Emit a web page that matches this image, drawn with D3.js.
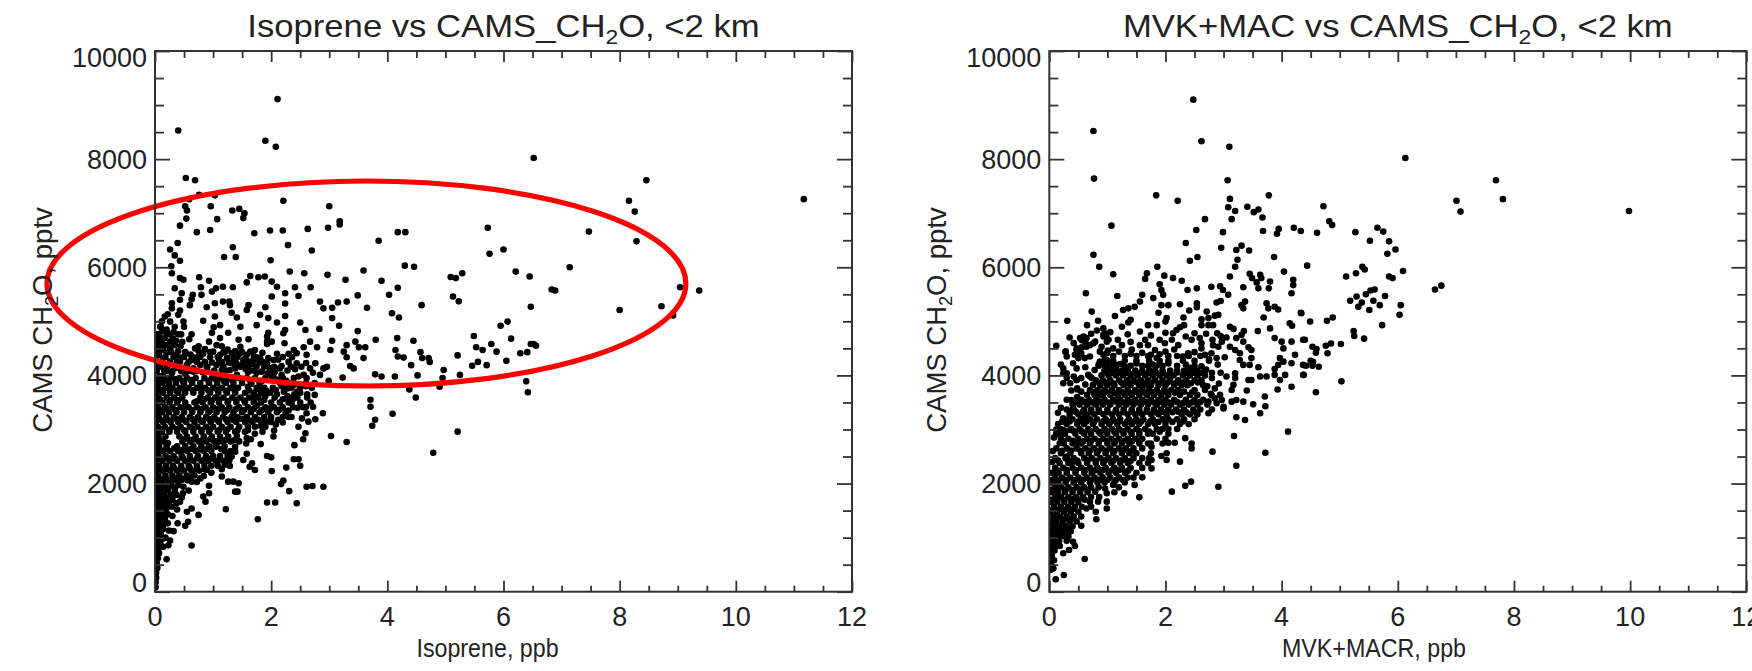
<!DOCTYPE html>
<html><head><meta charset="utf-8">
<script src="https://cdn.jsdelivr.net/npm/d3@7"></script>
<style>html,body{margin:0;padding:0;background:#fff;overflow:hidden}svg{display:block}</style>
</head><body><svg id="chart" width="1752" height="671"></svg>
<script>
const xTickLabels=[0,2,4,6,8,10,12];
const yTickLabels=[0,2000,4000,6000,8000,10000];
const isopreneSparse=[[.40,8530],[2.11,9110],[1.90,8340],[2.08,8230],[.53,7650],[.69,7610],[.76,7340],[.59,7260],[1.03,7330],[2.21,7230],[3.0,7130],[.52,7130],[.55,7050],[.96,7130],[1.07,6890],[1.33,7050],[1.45,7080],[1.54,7000],[1.52,6910],[3.18,6850],[3.18,6790],[.54,6900],[.43,6770],[.72,6650],[.95,6690],[1.71,6630],[1.98,6680],[2.2,6680],[2.63,6710],[2.98,6730],[.39,6450],[2.29,6410],[1.34,6370],[2.7,6310],[.26,6330],[.34,6220],[.43,6120],[1.19,6190],[1.39,6190],[1.99,6130],[.28,6020],
[.29,5890],[.43,5800],[.49,5770],[.76,5815],[.93,5750],[.34,5610],[.46,5520],[.65,5490],[.63,5410],[.43,5400],[.60,5300],[.79,5630],[.80,5490],[.98,5550],[1.05,5610],[1.17,5640],[1.34,5630],[1.58,5720],[1.64,5840],[1.78,5815],[1.89,5830],[2.01,5735],[2.10,5640],[2.32,5920],[2.57,5890],[2.97,5860],[3.28,5770],[3.59,5940],[2.41,5630],[2.24,5520],[2.68,5630],[2.01,5460],[2.47,5470],[3.49,5480],[2.24,5330],[2.84,5365],[2.90,5240],[3.15,5350],[3.30,5365],[3.05,5250],[3.65,5250],[.29,5335],[.29,5240],[.43,5200],[.49,4995],[.40,5120],[.89,5260],[1.03,5335],[1.17,5365],[1.28,5365],[1.29,5300],[1.61,5300],[1.58,5210],[1.90,5260],[1.32,5160],[1.03,5090],[1.41,5070],[.83,5010],[1.81,5120],[1.95,5060],[2.10,4980],[2.24,5100],[1.75,4930],[1.47,4900],[1.12,4930],[1.01,4890],[.98,4790],[1.26,4790],[.17,5090],[.26,4995],[.34,4900],[.09,4900],[.50,4900],[3.05,5060],[3.17,4920],[2.5,4980],[2.59,4840],[2.83,4860],[2.24,4840],[2.21,4780],[3.49,4820],[1.95,4790],[1.93,4720],[.63,4760],[.59,4670],[.17,4690],[.26,4625],[.34,4560],[.93,4625],[1.12,4690],[1.06,4560],[1.44,4660],[1.61,4670],[1.93,4625],[2.01,4625],[2.23,4595],[2.67,4625],[3.05,4640],[3.45,4625],[3.30,4560],[3.51,4520],[3.62,4520],[.69,4500],[.86,4490],[.40,4450],[.14,4470],[.26,4500],[1.47,4530],[1.32,4410],[1.72,4470],[1.93,4580],[2.56,4520],[2.79,4520],[2.39,4470],[3.02,4470],[3.25,4440],[3.30,4335],[3.59,4320],[2.61,4380],[2.36,4335],[2.44,4410],[.95,4335],[1.24,4320],[1.58,4380],[1.75,4335],[1.64,4255],[2.04,4285],[2.18,4175],[2.44,4225],[2.76,4225],[2.67,4130],[2.90,4130],[2.96,4160],[3.36,4175],[3.42,4130],[2.41,4115],[.43,4255],[.78,4195],[1.06,4195],[1.32,4225],[1.47,4160],[1.75,4160],[1.98,4130],[.14,4320],[.09,4160],[.26,4255],[1.84,4070],[2.56,4010],[2.61,3950],[3.23,3960],[2.39,3950],[2.99,3900],[2.18,4010],[2.01,3980],[1.41,4010],[1.06,3980],[.66,4070],[1.64,4440],[1.35,4320],[1.52,4285],[1.70,4285],[1.81,4320],[1.93,4225],[1.95,4320],[1.12,4380],[1.29,4100],[1.15,4100],[.89,4160],[.66,4130],[.49,4100],[.29,4040],[.14,3980],
[4.18,6650],[4.31,6650],[3.85,6490],[5.73,6730],[7.47,6660],[8.16,7230],[8.26,7030],[8.29,6480],[5.76,6250],[6.0,6330],[4.30,6030],[4.46,6010],[6.21,5920],[6.45,5830],[7.14,6000],[3.90,5750],[4.18,5620],[4.03,5490],[5.09,5820],[5.18,5800],[5.29,5890],[5.13,5460],[5.23,5370],[4.59,5300],[6.83,5590],[6.89,5570],[4.08,5150],[4.20,5070],[6.47,5270],[8.0,5210],[6.07,4995],[5.95,4920],[5.49,4730],[6.13,4680],[3.80,4660],[4.17,4690],[4.45,4640],[4.14,4470],[5.53,4520],[5.64,4470],[5.79,4580],[5.88,4440],[6.47,4580],[6.56,4550],[6.52,4580],[4.57,4430],[4.18,4350],[4.28,4330],[4.41,4190],[4.6,4320],[4.71,4320],[4.73,4250],[5.21,4370],[6.29,4410],[6.41,4430],[6.05,4270],[5.46,4180],[5.56,4250],[5.71,4190],[4.97,4100],[3.79,4020],[3.90,3980],[4.13,3980],[4.52,4000],[4.95,3950],[5.25,4010],[4.38,3740],[4.90,3790],[6.39,3890],[6.42,3690],[4.49,3590],[3.71,3550],[3.71,3420],[4.09,3290],[3.79,3180],[3.74,3070],[5.21,2960],[4.79,2570],[6.52,8020],[8.46,7610],[11.17,7260],[9.37,5570],[9.04,5630],[8.72,5280],[8.92,5110],
[3.30,2770],[3.03,2880],[2.89,3300],[2.76,3190],[2.64,3145],[2.53,3205],[2.61,3300],[2.47,3050],[2.59,2930],[2.55,2820],[2.40,2710],[2.04,2870],[1.82,2730],[1.57,2740],[1.58,2840],[1.41,2885],[1.58,2550],[1.52,2435],[1.67,2375],[1.63,2310],[1.72,2250],[1.93,2510],[2.0,2485],[2.01,2230],[2.26,2295],[2.39,2450],[2.47,2450],[2.5,2330],[2.21,2055],[2.17,1990],[2.31,1860],[2.61,1940],[2.71,1955],[2.90,1940],[1.93,1650],[2.07,1650],[2.44,1635],[1.77,1340],[1.22,1525],[1.38,1850],[1.42,1850],[1.44,2005],[1.35,2035],[1.26,2035],[1.15,2130],[1.15,2265],[1.29,2325],[1.32,2500],[1.38,2590],[.93,1960],[.93,1820],[.83,1760],[.87,1665],[.63,1540],[.55,1480],[.75,1420],[.57,1295],[.52,1220],[.39,1265],[.32,1120],[.22,1265],[.26,945],[.23,860],[.14,830],[.63,855],[.20,600],[.37,1635],[.43,1665],[.29,1570],[.49,1940],[.48,1820],[.63,2035],[.78,2095],[.89,2250]];
const isopreneExtra=[[.05,4720],[.12,4810],[.21,4770],[.08,4600],[.19,4560],[.31,4680],[.47,4620],[.53,4410],[.07,4380],[.2,4420],[.36,4370],[.44,4330],[.61,4385],[.74,4340],[.83,4400],[1.0,4440],[1.1,4300],[1.2,4430],[1.38,4450],[1.27,4240],[1.56,4320],[1.4,4230],[1.68,4210],[1.8,4240],[2.12,4290],[2.3,4250],[2.28,4090],[2.06,4060],[1.94,4040],[1.68,4090],[1.56,4120],[1.38,4130],[1.02,4090],[.82,4060],[.52,4030],[.37,4140],[.21,4080],[.08,3990],
[.09,3915],[.21,3900],[.35,3930],[.48,3890],[.62,3915],[.92,3900],[1.05,3925],[1.19,3890],[1.33,3910],[1.64,3905],[1.84,3895],[2.12,3920],[2.26,3900],
[.11,3730],[.24,3760],[.37,3715],[.5,3745],[.65,3725],[.79,3750],[.92,3720],[1.07,3740],[1.22,3715],[1.36,3745],[1.62,3720],[1.79,3750],[1.92,3715],[2.08,3730],[2.22,3700],[2.4,3650],
[.09,3555],[.26,3545],[.4,3540],[.72,3520],[.85,3560],[.98,3535],[1.11,3555],[1.26,3525],[1.4,3550],[1.54,3530],[1.7,3560],[1.88,3545],[2.06,3590],[2.2,3560],[2.38,3570],
[.08,3365],[.2,3380],[.35,3360],[.49,3390],[.64,3355],[.8,3375],[.95,3350],[1.1,3385],[1.24,3360],[1.39,3375],[1.53,3355],[1.7,3380],[1.84,3360],[1.98,3385],[2.14,3365],[2.3,3350],
[.08,3190],[.22,3175],[.36,3200],[.5,3170],[.65,3190],[.79,3165],[.93,3195],[1.07,3175],[1.22,3190],[1.36,3170],[1.5,3195],[1.63,3165],[1.78,3180],[1.94,3150],[2.12,3180],
[.1,3005],[.24,2990],[.38,3010],[.5,2985],[.66,3015],[.8,2990],[.95,3005],[1.1,2985],[1.25,3005],[1.42,2985],[1.6,2985],[1.82,3070],
[.1,2800],[.22,2750],[.5,2820],[.65,2810],[.8,2790],[.95,2820],[1.08,2780],[1.22,2810],[1.36,2800],
[.09,2620],[.2,2640],[.33,2650],[.47,2620],[.62,2640],[.77,2630],[.9,2640],[1.04,2680],[1.14,2640],
[.1,2450],[.22,2470],[.35,2455],[.48,2470],[.6,2445],[.73,2470],[.86,2450],[.98,2465],[1.1,2430],
[.08,2280],[.2,2270],[.33,2285],[.46,2265],[.6,2280],[.72,2260],[.86,2260],
[.07,2090],[.18,2100],[.3,2090],[.4,2110],[.5,2090],[.6,2120],
[.04,1930],[.12,1920],[.23,1930],[.34,1925],
[.05,1740],[.17,1740],[.26,1750],[.04,1560],[.13,1560],[.2,1570],[.03,1380],[.1,1390],[.04,1200],[.1,1210],[.03,1020],[.08,1030],[.02,860],[.06,860],[.04,660]];
const isopreneFill=[[1.6,4060],[1.75,4050],[2.0,4100],[2.15,4130],[2.34,4160],[2.52,4160],[2.6,4230],[2.72,4050],[2.84,4010],[2.47,3980],[2.6,3800],[2.45,3700],[2.62,3650],[2.75,3640],[2.18,3800],[2.4,3830],[2.28,3760],[2.1,3650],[2.28,3620],[1.72,3640],[1.6,3790],[1.65,3840],[1.9,3620],[2.35,3480],[2.6,3420],[2.45,3400],[2.72,3420],[1.75,3440],[2.3,3230],[2.08,3090],[2.2,3130],[2.05,2980],[1.85,2960],[1.72,2920],[1.65,2820],[1.45,2780],[1.38,2680],[1.28,2430],[1.2,2350],[1.08,2330],[.97,2200],[.84,2140],[.72,2030],[.58,1870],[.46,1740],[.38,1520],[.3,1400],[.24,1130],[.18,1000],
[.1,4900],[.2,4850],[.32,4800],[.45,4760],[.12,5000],[.22,5130],[.08,4700],[.75,4450],[.7,4280],[.98,4240],[1.25,4480],[1.45,4400],[1.7,4360],[1.85,4420],[2.1,4400],[2.2,4340],[2.3,4400],[1.5,4190],[1.14,4230],[.55,4200],[.62,4280],[.22,4180]];
const isopreneCloud=[
[4760,[.04,.25,.4]],[4640,[.03,.12,.36]],[4540,[.03,.1,.44,.75,1.15]],[4430,[.06,.28,.52,.95,1.18,1.5]],[4340,[.02,.18,.32,.5,.65,.78,1.08,1.42]],[4250,[.04,.12,.38,.58,.72,.86,1.15,1.6,1.85]],[4160,[.05,.2,.35,.55,.9,1.18,1.6,1.88,2.05]],[4080,[.03,.16,.3,.45,.58,.72,.9,1.2,1.6]],
[3950,[.04,.15,.27,.42,.55,.7,.85,.98,1.12,1.27,1.44,1.58,1.72,1.9,2.05,2.2]],[3860,[.02,.12,.24,.36,.5,.64,.78,.93,1.07,1.22,1.35,1.5,1.66,1.8,2.15,2.3,2.6,2.75]],[3770,[.05,.18,.3,.43,.58,.72,.86,1.0,1.15,1.3,1.43,1.75,1.88,2.03,2.35,2.5,2.7]],[3680,[.03,.14,.26,.4,.52,.66,.8,.95,1.09,1.24,1.38,1.55,1.7,1.83,1.98,2.5]],[3590,[.06,.2,.33,.47,.78,.91,1.04,1.18,1.33,1.47,1.62,1.78,2.3,2.45,2.62]],[3500,[.02,.13,.25,.38,.52,.68,.82,.96,1.1,1.25,1.4,1.55,1.7,1.82,2.0,2.15,2.3,2.5,2.68]],[3410,[.05,.17,.3,.44,.58,.72,.87,1.0,1.15,1.28,1.45,1.6,1.9,2.05,2.2,2.38,2.55]],[3320,[.03,.12,.24,.37,.5,.64,.78,.92,1.06,1.2,1.35,1.5,1.65,1.8,1.95,2.1,2.25]],[3230,[.06,.19,.32,.46,.6,.74,.88,1.02,1.17,1.32,1.42,1.58,1.72,1.88,2.0,2.2,2.35]],[3140,[.02,.14,.27,.4,.54,.68,.82,.96,1.1,1.25,1.4,1.55,1.68,1.85,2.0]],[3050,[.05,.17,.3,.44,.6,.73,.88,1.0,1.15,1.3,1.45,1.6,1.72,1.9]],[2960,[.02,.12,.25,.38,.52,.66,.8,.93,1.08,1.22,1.38,1.55]],[2870,[.06,.18,.42,.55,.7,.84,.98,1.12,1.26]],[2780,[.03,.14,.47,.6,.75,.88,1.02,1.15,1.3]],[2690,[.07,.2,.38,.52,.66,.8,.93,1.06,1.2]],[2600,[.03,.14,.26,.4,.55,.7,.84,.97,1.2,1.3]],[2510,[.06,.18,.32,.46,.6,.74,.88,1.0,1.12,1.25]],[2420,[.02,.13,.25,.38,.52,.66,.8,.92,1.05,1.18]],[2330,[.07,.19,.31,.45,.58,.72,.85,.97]],[2240,[.03,.13,.26,.38,.5,.63,.76]],[2150,[.06,.18,.3,.42,.55,.68]],[2060,[.02,.12,.23,.35,.45,.56]],[1970,[.06,.17,.28,.4]],[1880,[.03,.12,.22,.34]],[1790,[.07,.16,.27,.37]],[1700,[.03,.12,.22,.3]],[1610,[.06,.15,.24]],[1520,[.02,.1,.19]],[1430,[.05,.13,.22]],[1340,[.02,.09,.17]],[1250,[.05,.12,.16]],[1160,[.02,.08,.14]],[1070,[.04,.1]],[980,[.02,.07,.13]],[890,[.04,.09]],[800,[.02,.06]],[710,[.03,.07]],[620,[.02,.05]],[530,[.03]],[440,[.02,.04]],[350,[.02]],[260,[.02]],[170,[.01]],[80,[.01]]];
const mvkSparse=[[.76,8520],[2.48,9100],[2.62,8330],[3.10,8230],[.77,7640],[3.07,7610],[1.84,7330],[2.21,7230],[3.78,7330],[3.11,7265],[3.08,7110],[3.20,7040],[3.41,7120],[3.60,7070],[3.52,7020],[3.67,6920],[4.72,7130],[4.82,6850],[4.87,6780],[1.07,6770],[2.68,6890],[3.14,6890],[2.53,6690],[2.99,6650],[3.68,6670],[3.95,6710],[3.92,6620],[4.21,6730],[4.33,6670],[4.61,6640],[2.35,6450],[3.31,6400],[3.22,6320],[2.96,6360],[3.44,6310],[.76,6230],[2.55,6190],[2.42,6120],[3.24,6140],[3.87,6190],[.86,6010],[1.86,6010],[3.20,6010],[4.44,6030],
[5.27,6650],[5.65,6730],[5.75,6660],[5.52,6490],[5.85,6480],[5.96,6330],[5.82,6250],[5.39,6010],[5.43,5960],[5.28,5890],[5.11,5830],[5.85,5830],[5.91,5800],[6.09,5930],[7.01,7230],[7.08,7030],[7.81,7260],[9.98,7040],[6.13,8020],[7.69,7610],[6.64,5590],[6.75,5660],[5.18,5380],[5.29,5460],[5.45,5500],[5.53,5570],[5.6,5590],[5.78,5470],[5.38,5350],[5.32,5270],[5.58,5380],[5.69,5300],[5.51,5210],[6.05,5300],[6.03,5120],[5.73,4930],[4.34,5150],[4.49,4995],[4.78,5010],[4.88,5070],[5.24,4820],[5.25,4730],[5.42,4680],[4.40,4660],[4.53,4530],[4.6,4490],[4.59,4420],[4.76,4550],[4.85,4590],[5.02,4580],[4.79,4410],[4.50,4270],[4.54,4250],[4.42,4180],[4.53,4180],[4.64,4160],[4.38,4010],[5.03,3890],[4.59,3690],
[1.10,5870],[1.68,5890],[1.65,5785],[1.98,5845],[2.13,5800],[2.28,5750],[3.11,5830],[3.45,5880],[3.49,5800],[3.63,5860],[3.65,5800],[3.80,5735],[3.57,5720],[4.2,5770],[4.2,5670],[4.04,5920],[1.90,5685],[1.93,5580],[1.96,5490],[2.38,5580],[2.54,5610],[2.79,5640],[2.94,5650],[2.99,5580],[3.08,5490],[3.34,5630],[3.6,5610],[3.78,5610],[4.17,5520],[.63,5520],[1.17,5470],[1.60,5490],[1.79,5430],[1.56,5365],[1.47,5270],[1.36,5240],[1.27,5210],[.73,5180],[1.13,5100],[1.88,5160],[1.93,5300],[2.05,5300],[2.25,5315],[2.54,5335],[2.54,5260],[2.41,5200],[2.88,5350],[2.95,5375],[3.37,5365],[3.31,5300],[3.34,5240],[3.74,5335],[3.77,5240],[3.88,5270],[3.94,5220],[4.33,5160],[.31,5010],[.65,4930],[.84,5010],[.93,4870],[.98,4720],[1.02,4660],[1.25,4900],[1.40,5030],[1.36,4980],[1.70,4930],[1.85,4930],[2.02,5060],[2.0,4995],[2.31,5070],[2.32,4930],[2.71,5180],[2.62,5040],[2.74,5060],[2.85,5105],[2.91,5120],[2.62,4930],[2.74,4930],[2.82,4930],[1.56,4810],[1.18,4660],[3.69,5070],[4.14,4965],[4.18,4920],[3.59,4820],[3.80,4870],[3.11,4900],[3.17,4860],[3.35,4820],[3.31,4750],[2.89,4780],[2.25,4890],[2.19,4840],[2.13,4780],[.59,4720],[.53,4690],[.64,4690],[.70,4560],[.79,4625],[.93,4720],[.96,4780],[.99,4625],[1.65,4660],[1.56,4560],[1.90,4660],[2.11,4660],[1.99,4595],[2.45,4660],[2.59,4690],[2.62,4595],[2.81,4660],[2.97,4625],[2.82,4560],[2.91,4530],[3.22,4690],[3.34,4625],[3.11,4530],[3.20,4470],[3.88,4690],[4.0,4625],[4.17,4625],[4.37,4660],[4.03,4500],[.28,4440],[.47,4500],[.56,4520],[.64,4530],[.90,4530],[1.01,4460],[1.42,4480],[1.82,4470],[3.43,4520],[3.48,4470],[3.28,4410],[2.79,4410],[2.88,4320],[3.02,4335],[2.62,4500],[2.39,4410],[2.22,4560],[.44,4380],[.50,4320],[.61,4320],[.93,4380],[.99,4285],[.87,4255],[1.02,4130],[.41,4225],[.47,4130],[3.28,4285],[3.48,4320],[3.34,4195],[3.45,4195],[3.6,4150],[4.23,4380],[3.97,4320],[4.03,4255],[4.17,4225],[3.94,4195],[3.88,4120],[4.37,4195],[.24,4130],[.30,4040],[.24,3855],[.36,3855],[.47,3915],[.48,3760],[.67,4010],[.73,3950],[3.20,4040],[3.20,3950],[3.17,3825],[3.14,3730],[3.43,3915],[3.48,3915],[3.63,3980],[3.74,3980],[3.88,4010],[3.97,3915],[4.06,4010],[4.37,4010],[4.17,3790],[3.93,3740],[3.40,3720],[3.71,3610],[3.72,3430],[3.51,3465],[3.63,3300],[3.34,3515],[3.22,3545],[3.14,3515],[3.22,3225],[3.37,3175],[2.94,3640],[2.97,3545],[2.74,3515],[2.85,3575],[3.0,3390],[2.74,3300],[3.0,3420],[2.88,3485],
[4.11,2960],[3.72,2570],[3.18,2880],[3.22,2330],[2.81,2590],[2.91,1940],[2.44,2035],[2.34,1960],[2.11,1850],[2.25,2405],[2.02,2435],[2.02,2560],[1.93,2510],[1.55,1745],[1.29,1820],[1.47,1975],[1.60,2115],[1.27,2065],[1.10,1975],[.79,1850],[.96,1910],[.99,1820],[.84,1665],[.99,1665],[.99,1540],[.81,1340],[.61,1700],[.64,1540],[.55,1220],[.33,1020],[.41,925],[.44,845],[.34,770],[.24,710],[.18,845],[.61,605],[.25,310],[.11,230],[.07,430],[.04,650],[2.45,2740],[2.45,2650],[2.34,2840],[2.16,2755],[2.05,2755],[1.76,2435],[1.76,2280],[1.76,2680]];
const mvkExtra=[[.28,4440],[.47,4470],[.56,4650],[.62,4620],[.76,4595],[.93,4750],[.87,4440],[.99,4410],[.93,4225],[1.16,4190],[.24,4040],[.47,3915],[.48,3740],[.70,3980],[.38,3545],[.41,3390],[.24,3205],[.24,2990],[.36,2990],[.18,2745],[.50,2745],[.30,2500],[.41,2405],[.13,2220],[.61,3240],[.81,3545],[.87,3640],
[1.2,4440],[1.4,4400],[1.6,4420],[1.9,4390],[2.0,4440],[.85,4200],[1.0,4230],[1.22,4210],[1.3,4170],[1.5,4220],[1.78,4200],[1.95,4180],[2.05,4220],[2.35,4200],[2.42,4140],[2.62,4170],[2.7,4110],[2.8,4050],[2.8,3950],
[1.0,4050],[1.1,4040],[1.21,4055],[1.33,4045],[1.46,4040],[1.58,4055],[1.7,4040],[1.84,4050],[1.96,4045],[2.08,4040],[2.2,4055],[2.36,4045],[2.48,4050],[2.6,4045],
[.86,3860],[.98,3870],[1.1,3855],[1.24,3870],[1.36,3855],[1.5,3875],[1.62,3860],[1.76,3870],[1.9,3855],[2.04,3870],[2.18,3860],[2.3,3870],[2.44,3855],[2.56,3870],
[.76,3690],[.88,3680],[1.0,3690],[1.13,3675],[1.26,3690],[1.39,3675],[1.52,3690],[1.65,3680],[1.78,3690],[1.9,3680],[2.02,3695],[2.16,3680],[2.32,3700],[2.46,3690],
[.48,3505],[.6,3510],[.74,3500],[.88,3510],[1.02,3500],[1.15,3515],[1.28,3500],[1.42,3510],[1.54,3500],[1.68,3510],[1.8,3500],[1.93,3510],[2.06,3500],[2.2,3510],[2.3,3490],[2.45,3500],[2.6,3510],
[.36,3325],[.46,3325],[.58,3330],[.72,3320],[.86,3330],[1.0,3320],[1.14,3330],[1.28,3320],[1.42,3330],[1.55,3320],[1.68,3330],[1.82,3320],[1.95,3330],[2.12,3320],[2.22,3330],[2.36,3320],[2.5,3320],
[.22,3145],[.35,3150],[.5,3145],[.64,3150],[.77,3140],[.93,3150],[1.06,3145],[1.2,3150],[1.34,3140],[1.46,3150],[1.58,3145],[1.74,3150],[1.88,3140],[2.12,3140],[2.3,3150],
[.27,2965],[.42,2970],[.56,2965],[.7,2970],[.85,2960],[.98,2970],[1.12,2960],[1.26,2970],[1.4,2960],[1.55,2970],[1.72,2960],[1.9,2960],
[.25,2785],[.42,2790],[.58,2780],[.72,2790],[.86,2785],[1.0,2790],[1.14,2785],[1.28,2790],[1.42,2780],[1.55,2790],
[.22,2605],[.38,2610],[.54,2605],[.7,2610],[.84,2600],[.98,2610],[1.12,2600],[1.27,2610],[1.42,2600],
[.15,2425],[.32,2430],[.48,2425],[.66,2430],[.8,2420],[.96,2430],[1.1,2420],[1.25,2430],[1.4,2420],
[.14,2245],[.3,2250],[.46,2245],[.62,2250],[.78,2240],[.92,2250],[1.08,2245],[1.2,2250],[1.36,2240],
[.06,2070],[.16,2065],[.3,2070],[.45,2065],[.58,2070],[.72,2065],[.86,2070],[1.0,2065],[1.15,2070],
[.05,1890],[.15,1885],[.28,1890],[.4,1880],[.54,1890],[.66,1880],[.02,1700],[.12,1710],[.26,1700],[.4,1710],[.5,1705],[.06,1520],[.18,1525],[.3,1520],[.42,1530],[.12,1350],[.26,1345],[.38,1350],[.1,1170],[.22,1165],[.32,1175],[.02,1040],[.12,1070],[.02,1260],[.05,760],[.03,860]];
const mvkFill=[[.12,4550],[.3,4350],[.2,4200],[.55,4410],[.7,4350],[.62,4150],[.78,4100],[.55,3950],[.62,3830],[.38,3720],[.55,3700],[.3,3550],[.48,3600],[.2,3400],[.3,3180],[.15,3310],[.12,3000],[.08,2850],[.06,2600],[.05,2400],[.18,2920],[.42,3980],[.3,3950],
[1.1,4500],[1.25,4560],[1.4,4620],[1.7,4560],[1.75,4380],[1.85,4320],[2.15,4480],[2.3,4350],[2.5,4430],[2.68,4380],[2.75,4300],[2.9,4200],[2.95,4050],[3.05,3980],[2.92,3850],[2.85,3760],[2.78,3660],[2.72,3800],[2.8,3630],[1.05,4800],[1.35,4760],[1.75,4740],[2.0,4790],[2.35,4720],[2.5,4780],[2.7,4770],[2.95,4730],[3.05,4700],[.72,4770],[.82,4830],[.42,4600],[.35,4700]];
const mvkCloud=[
[4360,[1.1,1.3,1.5,1.7,2.05,2.2,2.4,2.6]],[4270,[.95,1.1,1.3,1.5,1.72,1.9,2.05,2.3,2.5,2.75]],[4180,[.85,.95,1.1,1.4,1.6,1.7,1.85,2.2,2.5]],[4090,[.95,1.05,1.15,1.25,1.35,1.48,1.6,1.72,1.82,1.95,2.08,2.2,2.32,2.45,2.55,2.68]],[4000,[.9,1.02,1.15,1.27,1.4,1.52,1.65,1.78,1.9,2.02,2.14,2.3,2.42,2.55,2.68]],[3910,[.8,.92,1.05,1.2,1.34,1.45,1.58,1.7,1.82,1.95,2.08,2.22,2.36,2.5,2.62]],[3820,[.75,.88,1.0,1.12,1.28,1.4,1.55,1.65,1.75,1.88,2.0,2.15,2.28,2.38,2.65]],[3730,[.7,.83,.95,1.08,1.2,1.35,1.48,1.6,1.72,1.85,1.98,2.1,2.22,2.5,2.68]],[3640,[.65,.78,.92,1.05,1.18,1.3,1.42,1.55,1.68,1.8,1.93,2.05,2.25,2.42,2.55]],[3550,[.55,.68,.82,.95,1.1,1.22,1.35,1.48,1.6,1.75,1.88,2.0,2.15,2.35,2.5,2.65]],[3460,[.4,.52,.65,.8,.92,1.05,1.2,1.33,1.45,1.58,1.7,1.85,1.98,2.1,2.25,2.4,2.55,2.72]],[3370,[.3,.42,.6,.72,.85,1.0,1.15,1.28,1.42,1.55,1.68,1.8,1.92,2.05,2.18,2.32,2.48,2.6,2.8]],[3280,[.35,.5,.65,.78,.93,1.08,1.2,1.35,1.48,1.6,1.75,1.88,2.02,2.28,2.42,2.55]],[3190,[.25,.4,.55,.7,.82,.97,1.1,1.22,1.37,1.5,1.62,1.78,1.95,2.05,2.2,2.32,2.5]],[3100,[.15,.3,.48,.6,.75,.9,1.03,1.17,1.3,1.42,1.55,1.7,1.82,2.0,2.25,2.4]],[3010,[.2,.38,.52,.67,.8,.95,1.08,1.2,1.35,1.5,1.65,1.85,1.95,2.05,2.2]],[2920,[.12,.27,.45,.6,.72,.88,1.0,1.15,1.28,1.42,1.55,1.7,1.78,2.05]],[2830,[.2,.33,.5,.65,.78,.93,1.07,1.2,1.35,1.48,1.6,1.85,2.0]],[2740,[.25,.4,.55,.7,.85,1.0,1.12,1.25,1.38,1.55,1.7,1.75,1.95]],[2650,[.12,.3,.47,.62,.77,.9,1.05,1.2,1.32,1.45,1.6]],[2560,[.2,.36,.55,.68,.82,.97,1.1,1.25,1.38,1.5,1.75]],[2470,[.1,.28,.42,.6,.73,.88,1.02,1.15,1.3,1.45,1.6,1.72]],[2380,[.18,.33,.5,.65,.8,.93,1.07,1.22,1.35,1.55,1.7]],[2290,[.1,.24,.4,.55,.7,.83,.97,1.12,1.25,1.4,1.6]],[2200,[.05,.16,.3,.45,.6,.73,.88,1.02,1.15,1.3,1.5]],[2110,[.1,.22,.36,.5,.65,.78,.92,1.05,1.2,1.35,1.45]],[2020,[.04,.15,.28,.42,.55,.7,.83,.95,1.12,1.3]],[1930,[.1,.2,.33,.47,.6,.72,.85,1.2]],[1840,[.04,.15,.27,.4,.53,.66,1.12]],[1750,[.1,.2,.33,.46,.58,.72,.86]],[1660,[.03,.14,.26,.38,.5,.7]],[1570,[.08,.2,.32,.44,.56,.72]],[1480,[.02,.13,.25,.37,.5,.8]],[1390,[.07,.18,.3,.42,.55]],[1300,[.02,.12,.23,.35,.47]],[1210,[.06,.17,.28,.4]],[1120,[.02,.11,.2,.3,.37]],[1030,[.05,.15,.25]],[940,[.02,.1,.17,.3]],[850,[.05,.12]],[760,[.02,.09]],[670,[.04]],[580,[.02,.08]],[490,[.03]],[400,[.02]]];
const highlightEllipse={cx:3.64,cy:5700,rx:5.5,ry:1896};

const svg=d3.select('#chart');
const font='"Liberation Sans",Arial,sans-serif',ink='#222',frame='#333';
const minorX=d3.range(0,12.01,.5).filter(v=>v%2!==0);
const minorY=d3.range(0,10001,500).filter(v=>v%2000!==0);
function expand(cloud){return cloud.flatMap(([y,xs])=>xs.map(x=>[x,y]));}

function panel(o){
  const x=d3.scaleLinear().domain([0,12]).range([o.left,o.left+697]);
  const y=d3.scaleLinear().domain([0,10000]).range([591.7,51]);
  const id='clip'+Math.round(o.left);
  svg.append('clipPath').attr('id',id).append('rect').attr('x',o.left).attr('y',51).attr('width',697).attr('height',540.7);
  svg.append('g').attr('clip-path',`url(#${id})`).selectAll('circle').data(o.points).join('circle')
    .attr('cx',d=>x(d[0])).attr('cy',d=>y(d[1])).attr('r',3.3).attr('fill','#000');
  if(o.ellipse){
    const e=o.ellipse;
    svg.append('ellipse').attr('cx',x(e.cx)).attr('cy',y(e.cy)).attr('rx',x(e.rx)-x(0)).attr('ry',y(0)-y(e.ry))
      .attr('fill','none').attr('stroke','#f00').attr('stroke-width',5.2);
  }
  const addAxis=(gen,tx,ty)=>{const g=svg.append('g').attr('transform',`translate(${tx},${ty})`).call(gen);
    g.select('.domain').remove();g.selectAll('line').attr('stroke',frame).attr('stroke-width',1.8);g.selectAll('text').remove();return g;};
  addAxis(d3.axisBottom(x).tickValues(xTickLabels).tickSize(-11).tickFormat(''),0,591.7);
  addAxis(d3.axisBottom(x).tickValues(minorX).tickSize(-6).tickFormat(''),0,591.7);
  addAxis(d3.axisTop(x).tickValues(xTickLabels).tickSize(-11).tickFormat(''),0,51);
  addAxis(d3.axisTop(x).tickValues(minorX).tickSize(-7).tickFormat(''),0,51);
  addAxis(d3.axisLeft(y).tickValues(yTickLabels).tickSize(-15).tickFormat(''),o.left,0);
  addAxis(d3.axisLeft(y).tickValues(minorY).tickSize(-9).tickFormat(''),o.left,0);
  addAxis(d3.axisRight(y).tickValues(yTickLabels).tickSize(-15).tickFormat(''),o.left+697,0);
  addAxis(d3.axisRight(y).tickValues(minorY).tickSize(-9).tickFormat(''),o.left+697,0);
  svg.append('rect').attr('x',o.left).attr('y',51).attr('width',697).attr('height',540.7).attr('fill','none').attr('stroke',frame).attr('stroke-width',2);
  const t=s=>svg.append('text').attr('font-family',font).attr('fill',ink).text(s);
  xTickLabels.forEach(v=>t(v).attr('x',x(v)).attr('y',626).attr('font-size',27).attr('text-anchor','middle'));
  const nudge={0:-9.5,10000:6};
  yTickLabels.forEach(v=>t(v).attr('x',o.left-8).attr('y',y(v)+(nudge[v]||0)+9.5).attr('font-size',27).attr('text-anchor','end'));
  const sub=(sel,a,b)=>{sel.text(null);sel.append('tspan').text(a);sel.append('tspan').attr('font-size','0.66em').attr('dy','0.32em').text('2');sel.append('tspan').attr('dy','-0.21em').text(b);};
  sub(t('').attr('transform',`translate(${o.left+348.5},37) scale(1.1,1)`).attr('font-size',31.5).attr('text-anchor','middle'),o.title,'O, <2 km');
  t(o.xLabel).attr('transform',`translate(${o.xLabelAt},657) scale(0.93,1)`).attr('font-size',25).attr('text-anchor','middle');
  sub(t('').attr('transform',`translate(${o.left-103},320) rotate(-90)`).attr('font-size',27.5).attr('text-anchor','middle'),'CAMS CH','O, pptv');
}
panel({left:155,points:[...isopreneSparse,...isopreneExtra,...isopreneFill,...expand(isopreneCloud)],title:'Isoprene vs CAMS_CH',xLabel:'Isoprene, ppb',xLabelAt:487.5,ellipse:highlightEllipse});
panel({left:1049.3,points:[...mvkSparse,...mvkExtra,...mvkFill,...expand(mvkCloud)],title:'MVK+MAC vs CAMS_CH',xLabel:'MVK+MACR, ppb',xLabelAt:1374});
</script></body></html>
